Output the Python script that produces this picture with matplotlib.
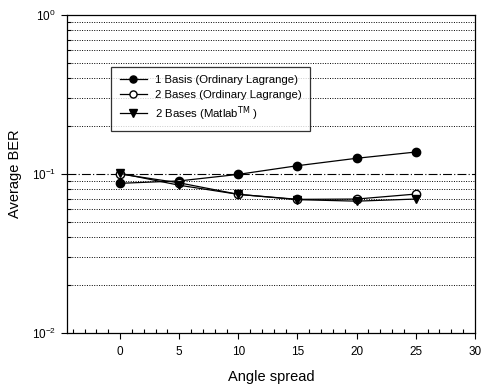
import matplotlib
matplotlib.use("Agg")
import matplotlib.pyplot as plt
from matplotlib.ticker import FixedLocator, LogLocator, NullFormatter

plt.rcParams["font.family"] = ["Liberation Sans", "DejaVu Sans"]

# Data
angle = [0, 5, 10, 15, 20, 25]
ber_1basis_ol = [0.0874, 0.0905, 0.0995, 0.1128, 0.1256, 0.1375]
ber_2bases_ol = [0.1000, 0.0880, 0.0745, 0.0693, 0.0696, 0.0748]
ber_2bases_matlab = [0.1010, 0.0850, 0.0745, 0.0690, 0.0675, 0.0696]

labels = [
    "1 Basis (Ordinary Lagrange)",
    "2 Bases (Ordinary Lagrange)",
    "2 Bases (Matlab$^{\\rm TM}$ )",
]

fig = plt.figure(figsize=(4.85, 3.85), dpi=100)
ax = fig.add_axes([0.138, 0.135, 0.841, 0.826])

ax.set_yscale("log")
ax.set_ylim(1e-2, 1)
ax.set_xlim(-4.5, 30)

# grid: dotted minor lines, dash-dot at 10^-1
ax.yaxis.set_minor_locator(LogLocator(base=10, subs=range(2, 10)))
ax.yaxis.set_minor_formatter(NullFormatter())
ax.grid(True, which="minor", axis="y", linestyle=(0, (1, 1.5)),
        color="black", linewidth=0.7)
ax.axhline(0.1, color="black", linestyle=(0, (8, 2, 1, 2)), linewidth=0.8,
           zorder=1)

ax.plot(angle, ber_1basis_ol, color="black", marker="o", markersize=6,
        markerfacecolor="black", linewidth=0.9, label=labels[0], zorder=3)
ax.plot(angle, ber_2bases_ol, color="black", marker="o", markersize=6,
        markerfacecolor="white", linewidth=0.9, label=labels[1], zorder=3)
ax.plot(angle, ber_2bases_matlab, color="black", marker="v", markersize=6,
        markerfacecolor="black", linewidth=0.9, label=labels[2], zorder=3)

ax.set_xticks([0, 5, 10, 15, 20, 25, 30])
ax.xaxis.set_minor_locator(FixedLocator(
    [v for v in range(-4, 30) if v % 5 != 0]))
ax.tick_params(axis="x", which="major", direction="out", length=4,
               width=0.8, labelsize=8.5, pad=5)
ax.tick_params(axis="x", which="minor", direction="in", length=3, width=0.8)
ax.tick_params(axis="y", which="major", direction="out", length=4,
               width=0.8, labelsize=8.5, pad=4)
ax.tick_params(axis="y", which="minor", direction="in", length=3, width=0.8)

for s in ax.spines.values():
    s.set_linewidth(0.9)

ax.set_xlabel("Angle spread", fontsize=10.5, labelpad=9)
ax.set_ylabel("Average BER", fontsize=10.5, labelpad=7)

leg = ax.legend(loc="upper left", bbox_to_anchor=(0.108, 0.838),
                fontsize=8.2, frameon=True, fancybox=False, shadow=False,
                handlelength=2.4, handletextpad=0.7, borderpad=0.75,
                borderaxespad=0, labelspacing=0.4, markerscale=0.85)
leg.get_frame().set_edgecolor("black")
leg.get_frame().set_linewidth(0.9)

fig.savefig("out.png", dpi=100)
